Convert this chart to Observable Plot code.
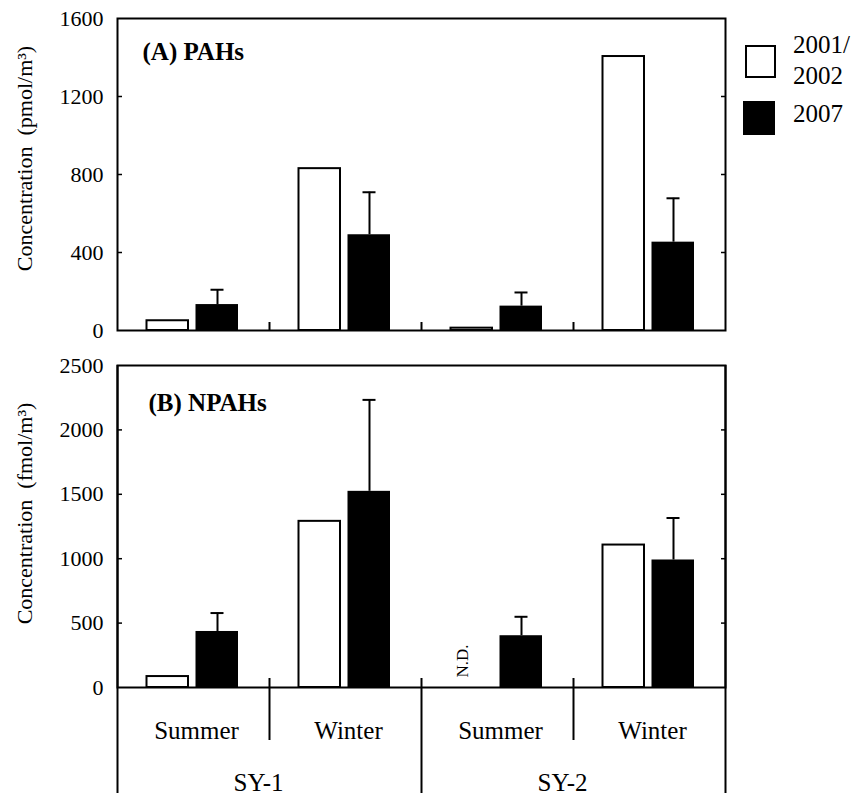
<!DOCTYPE html>
<html>
<head>
<meta charset="utf-8">
<script src="https://cdn.jsdelivr.net/npm/d3@7"></script>
<script src="https://cdn.jsdelivr.net/npm/@observablehq/plot@0.6"></script>
<style>
  html, body { margin: 0; padding: 0; background: white; }
  #wrap { position: relative; width: 861px; height: 801px; font-family: "Liberation Serif", "Times New Roman", serif; }
  #wrap svg { position: absolute; left: 0; }
  .lg-box { position: absolute; box-sizing: border-box; }
  .lg-text { position: absolute; font-size: 25px; line-height: 31px; color: black; }
</style>
</head>
<body>
<div id="wrap"></div>
<script>
// ---- data ----
const groups  = ["SY-1 Summer", "SY-1 Winter", "SY-2 Summer", "SY-2 Winter"];
const sites   = ["SY-1", "SY-1", "SY-2", "SY-2"];
const seasons = ["Summer", "Winter", "Summer", "Winter"];
const years   = ["2001/2002", "2007"];

// (A) PAHs, pmol/m3
const pah2001    = [50, 830, 12, 1405];
const pah2007    = [133, 491, 125, 453];
const pah2007err = [76, 218, 70, 225];

// (B) NPAHs, fmol/m3 (null = N.D.)
const npah2001    = [85, 1290, null, 1106];
const npah2007    = [435, 1523, 402, 990];
const npah2007err = [143, 710, 147, 326];

const yTicksA = [0, 400, 800, 1200, 1600];
const yTicksB = [0, 500, 1000, 1500, 2000, 2500];

// ---- layout ----
const W = 861, ML = 117, MR = 136;
const band = (W - ML - MR) / groups.length;
const frameW = band * groups.length;
const FONT = "Liberation Serif";

function rowsOf(a, b, e) {
  return groups.map((g, i) => ({group: g, site: sites[i], season: seasons[i], v2001: a[i], v2007: b[i], err: e[i]}));
}

function panel({rows, height, mt, mb, domain, ticks, title, titleDx, titleDy, ylabel, ylabelDy, bottom}) {
  const frameH = height - mt - mb;
  const inner = ticks.slice(1, -1);
  const marks = [
    Plot.barY(rows, {x: "group", y: "v2001", fill: "white", stroke: "black", strokeWidth: 2, insetLeft: 29.5, insetRight: 81}),
    Plot.barY(rows, {x: "group", y: "v2007", fill: "black", insetLeft: 78.5, insetRight: 31}),
    Plot.ruleX(rows, {x: "group", y1: "v2007", y2: d => d.v2007 + d.err, dx: 24, stroke: "black", strokeWidth: 2}),
    Plot.tickY(rows, {x: "group", y: d => d.v2007 + d.err, insetLeft: 93.5, insetRight: 45.5, stroke: "black", strokeWidth: 2}),
    Plot.ruleY(inner, {insetLeft: frameW - 4, stroke: "black", strokeWidth: 1.5}),
    Plot.ruleY(inner, {insetRight: frameW - 5, stroke: "black", strokeWidth: 1.5}),
    Plot.frame({stroke: "black", strokeWidth: 2}),
    Plot.axisY(ticks, {tickSize: 0, tickPadding: 14, fontSize: 22, tickFormat: d => String(d), label: null}),
    Plot.text([title], {frameAnchor: "top-left", dx: titleDx, dy: titleDy, textAnchor: "start", lineAnchor: "bottom", fontWeight: "bold", fontSize: 25}),
    Plot.text([ylabel], {frameAnchor: "left", textAnchor: "middle", lineAnchor: "middle", rotate: -90, dx: -93, dy: ylabelDy, fontSize: 22})
  ];
  if (!bottom) {
    marks.push(Plot.ruleX(groups.slice(1), {x: d => d, dx: -band / 2, insetTop: frameH - 8, stroke: "black", strokeWidth: 2}));
  } else {
    const innerSeps = groups.filter((g, i) => i > 0 && sites[i] === sites[i - 1]);
    const siteSeps = groups.filter((g, i) => i > 0 && sites[i] !== sites[i - 1]);
    const siteFirst = groups.filter((g, i) => i === 0 || sites[i] !== sites[i - 1]);
    marks.push(
      Plot.ruleX(innerSeps, {x: d => d, dx: -band / 2, insetTop: frameH - 9, insetBottom: -53, stroke: "black", strokeWidth: 2}),
      Plot.ruleX(siteSeps, {x: d => d, dx: -band / 2, insetTop: frameH - 9, insetBottom: -106, stroke: "black", strokeWidth: 2}),
      Plot.ruleX([groups[0]], {x: d => d, dx: -band / 2, insetBottom: -106, stroke: "black", strokeWidth: 2}),
      Plot.ruleX([groups[groups.length - 1]], {x: d => d, dx: band / 2, insetBottom: -106, stroke: "black", strokeWidth: 2}),
      Plot.text(rows, {x: "group", text: "season", frameAnchor: "bottom", textAnchor: "middle", lineAnchor: "bottom", dx: 3, dy: 51, fontSize: 25}),
      Plot.text(siteFirst, {x: d => d, text: d => sites[groups.indexOf(d)], frameAnchor: "bottom", textAnchor: "middle", lineAnchor: "bottom", dx: band / 2 - 11, dy: 103, fontSize: 25}),
      Plot.text(rows.filter(d => d.v2001 == null), {x: "group", text: () => "N.D.", frameAnchor: "bottom", rotate: -90, textAnchor: "start", lineAnchor: "middle", dx: -35, dy: -10, fontSize: 17})
    );
  }
  return Plot.plot({
    width: W, height, marginTop: mt, marginBottom: mb, marginLeft: ML, marginRight: MR,
    style: {fontFamily: FONT, color: "black", background: "transparent", overflow: "visible"},
    x: {type: "band", domain: groups, padding: 0, axis: null},
    y: {domain, axis: null},
    marks
  });
}

const wrap = document.getElementById("wrap");

const topPanel = panel({
  rows: rowsOf(pah2001, pah2007, pah2007err), height: 345, mt: 18, mb: 15,
  domain: [0, 1600], ticks: yTicksA, title: "(A) PAHs", titleDx: 25, titleDy: 41,
  ylabel: "Concentration  (pmol/m³)", ylabelDy: -16, bottom: false
});
topPanel.style.top = "0px";
wrap.appendChild(topPanel);

const botPanel = panel({
  rows: rowsOf(npah2001, npah2007, npah2007err), height: 456, mt: 20, mb: 114,
  domain: [0, 2500], ticks: yTicksB, title: "(B) NPAHs", titleDx: 31, titleDy: 45,
  ylabel: "Concentration  (fmol/m³)", ylabelDy: -13, bottom: true
});
botPanel.style.top = "345px";
wrap.appendChild(botPanel);

// legend
const fills = ["white", "black"];
const boxTops = [45, 101];
years.forEach((y, i) => {
  const b = document.createElement("div");
  b.className = "lg-box";
  b.style.left = (i === 0 ? 745 : 743) + "px";
  b.style.top = boxTops[i] + "px";
  b.style.width = (i === 0 ? 31 : 32) + "px";
  b.style.height = (i === 0 ? 33 : 34) + "px";
  b.style.background = fills[i];
  b.style.border = "2px solid black";
  wrap.appendChild(b);
  const t = document.createElement("div");
  t.className = "lg-text";
  t.style.left = "793px";
  if (i === 0) {
    t.style.top = "29px";
    t.innerHTML = y.replace("/", "/<br>");
  } else {
    t.style.top = "98px";
    t.textContent = y;
  }
  wrap.appendChild(t);
});
</script>
</body>
</html>
